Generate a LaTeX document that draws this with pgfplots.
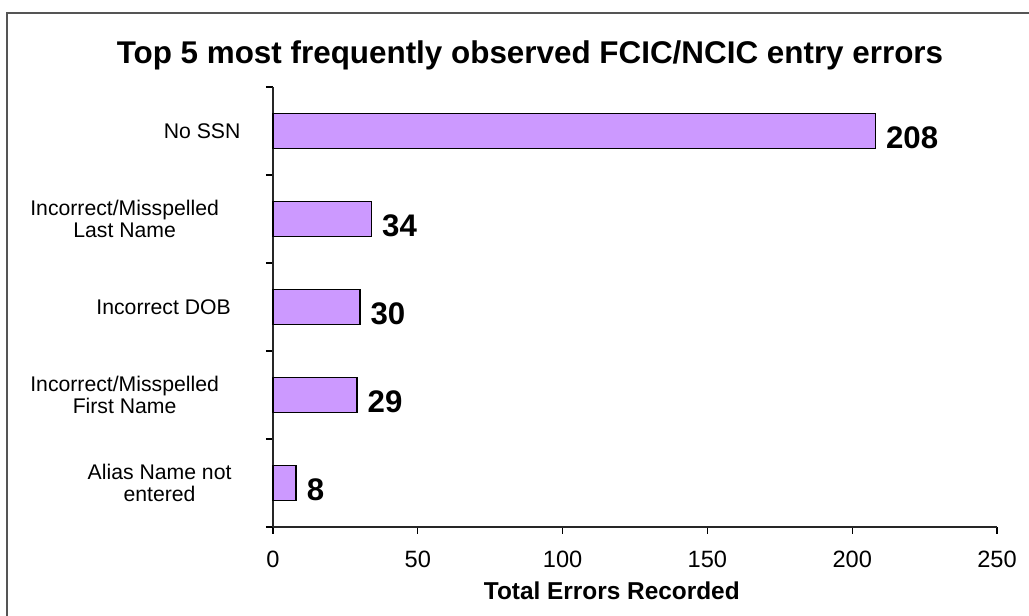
\documentclass[border=0pt]{standalone}
\usepackage{pgfplots}
\pgfplotsset{compat=1.18}
\usepackage{fontspec}
\setmainfont{Liberation Sans}
\definecolor{barfill}{HTML}{CC99FF}
\definecolor{framegray}{HTML}{555555}

\begin{document}
\begin{tikzpicture}
\useasboundingbox (0pt,0pt) rectangle (514.5pt,308pt);
% outer chart frame (cropped at right and bottom)
\draw[framegray, line width=1pt] (3.5pt,-2pt) -- (3.5pt,301.5pt) -- (516pt,301.5pt);
\node[anchor=base, font=\fontsize{15.7}{18}\selectfont\bfseries] at (265pt,276.4pt)
  {Top 5 most frequently observed FCIC/NCIC entry errors};
\begin{axis}[
  at={(136.5pt,44.5pt)}, anchor=south west,
  scale only axis, width=362pt, height=220pt,
  xbar, bar width=17.5pt,
  xmin=0, xmax=250, ymin=-0.5, ymax=4.5,
  axis x line=bottom, axis y line=left,
  axis line style={-, black!85, line width=0.6pt},
  xtick={0,50,...,250},
  tick align=outside, major tick length=3.5pt,
  tick style={black, line width=0.6pt},
  ytick={-0.5,0.5,1.5,2.5,3.5,4.5}, yticklabels={,,,,,},
  extra y ticks={0,1,2,3,4},
  extra y tick labels={
    {\parbox{113pt}{\centering Alias Name not\\entered}},
    {\parbox{148pt}{\centering Incorrect/Misspelled\\First Name}},
    {\parbox{109pt}{\centering Incorrect DOB}},
    {\parbox{148pt}{\centering Incorrect/Misspelled\\Last Name}},
    {\parbox{70.5pt}{\centering No SSN}}},
  extra y tick style={major tick length=0pt, tick style={draw=none},
    yticklabel style={anchor=east, inner sep=0pt}},
  /pgf/number format/assume math mode=true,
  xticklabel style={font=\fontsize{11.8}{13}\selectfont, yshift=-5pt},
  yticklabel style={font=\fontsize{10.6}{10.6}\selectfont},
  xlabel={Total Errors Recorded},
  xlabel style={font=\fontsize{12.2}{14}\selectfont\bfseries,
    at={(axis description cs:0.468,0)}, anchor=base, yshift=-36.5pt},
  point meta=x,
  nodes near coords,
  every node near coord/.append style={font=\fontsize{15.6}{17}\selectfont\bfseries,
    anchor=west, inner sep=0pt, xshift=5pt, yshift=-3.5pt, black},
  clip=false,
]
\addplot[fill=barfill, draw=black, line width=0.7pt] coordinates {
  (8,0) (29,1) (30,2) (34,3) (208,4)};
\end{axis}
\end{tikzpicture}
\end{document}
